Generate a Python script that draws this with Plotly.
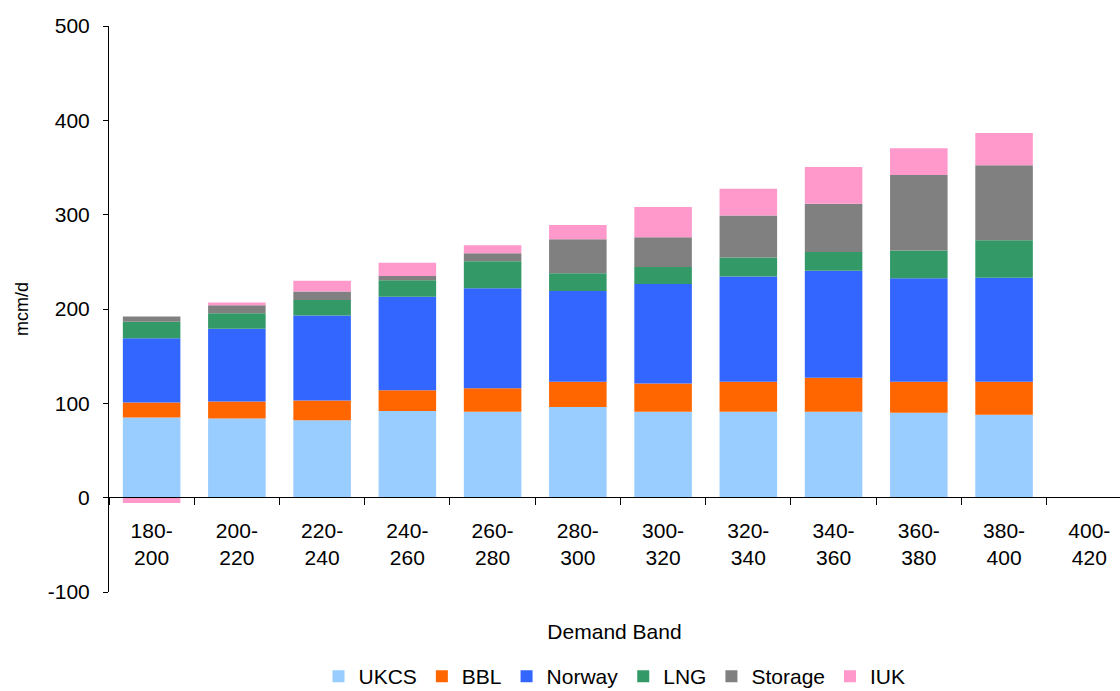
import plotly.graph_objects as go

# Demand bands (mcm/d) on the category axis
bands = ["180-<br>200", "200-<br>220", "220-<br>240", "240-<br>260", "260-<br>280",
         "280-<br>300", "300-<br>320", "320-<br>340", "340-<br>360", "360-<br>380",
         "380-<br>400", "400-<br>420"]

# Supply by source for each demand band (mcm/d)
ukcs    = [85, 84, 82, 92, 91, 96, 91, 91, 91, 90, 88, None]
bbl     = [16, 18, 21, 22, 25, 27, 30, 32, 36, 33, 35, None]
norway  = [68, 77, 90, 99, 106, 96, 105.5, 111.5, 113.5, 109.5, 110, None]
lng     = [17.5, 16.5, 16.5, 17.5, 28.5, 19, 18, 20, 20, 29.5, 40, None]
storage = [5.5, 8.5, 9, 4.5, 8.5, 36, 31.5, 44.5, 51, 80, 79.5, None]
iuk     = [-5.7, 3, 11.5, 14, 8.5, 15, 32, 28.5, 39, 28.5, 34, None]

# y-axis ticks, labelled with a plain hyphen for negatives
y_ticks = [-100, 0, 100, 200, 300, 400, 500]
y_tick_text = ["-100", "0", "100", "200", "300", "400", "500"]

series = [
    ("UKCS", ukcs, "#99CCFF"),
    ("BBL", bbl, "#FF6600"),
    ("Norway", norway, "#3366FF"),
    ("LNG", lng, "#339966"),
    ("Storage", storage, "#808080"),
    ("IUK", iuk, "#FF99CC"),
]

FONT = "Liberation Sans, Arial, sans-serif"

fig = go.Figure()
for name, vals, color in series:
    fig.add_trace(go.Bar(name=name, x=bands, y=vals, marker_color=color,
                         marker_line_width=0))

# plot area: zero line sits (592-497)/566 of the way up
zero_pos = (592 - 497.3) / 566

fig.update_layout(
    width=1120, height=691,
    margin=dict(l=109, r=0, t=26, b=99, autoexpand=False),
    paper_bgcolor="white", plot_bgcolor="white",
    barmode="relative", bargap=0.325,
    font=dict(family=FONT, size=21, color="black"),
    showlegend=True,
    legend=dict(orientation="h", x=0.5, xanchor="center",
                yref="container", y=0.021, yanchor="middle",
                font=dict(size=21), traceorder="normal",
                itemwidth=30, tracegroupgap=0),
    xaxis=dict(
        anchor="free", position=zero_pos,
        range=[-0.5, 11.36],
        showline=True, linecolor="black", linewidth=1,
        ticks="outside", tickson="boundaries", ticklen=7, tickcolor="black",
        showgrid=False, zeroline=False, automargin=False,
        tickfont=dict(size=21), ticklabelstandoff=14,
        title=dict(text="Demand Band", font=dict(size=21), standoff=56),
    ),
    yaxis=dict(
        range=[-100, 500], tickvals=y_ticks, ticktext=y_tick_text,
        showline=True, linecolor="black", linewidth=1,
        ticks="outside", ticklen=5, tickcolor="black",
        showgrid=False, zeroline=False, automargin=False,
        tickfont=dict(size=21), ticklabelstandoff=9,
        title=dict(text="mcm/d", font=dict(size=18), standoff=14),
    ),
)

fig.write_html("out.html")
